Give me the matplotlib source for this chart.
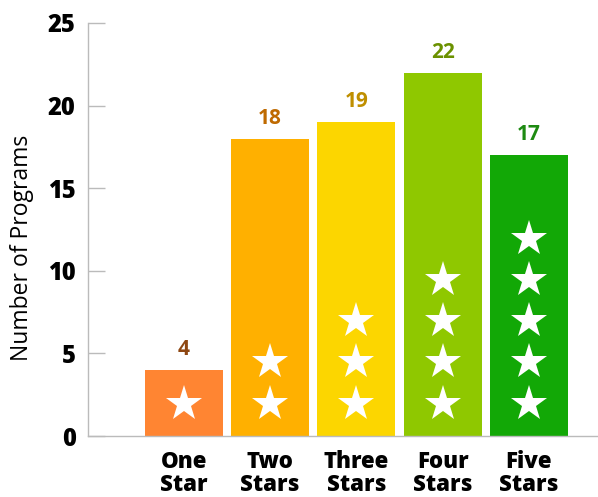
import matplotlib
matplotlib.use("Agg")
import matplotlib.pyplot as plt

categories = ["One\nStar", "Two\nStars", "Three\nStars", "Four\nStars", "Five\nStars"]
counts = [4, 18, 19, 22, 17]
star_counts = [1, 2, 3, 4, 5]
bar_colors = ["#FF8532", "#FFB000", "#FCD600", "#8FC800", "#12A806"]
label_colors = ["#8E4712", "#BF6A00", "#BF8F00", "#6B9100", "#1E8A12"]
yticks = [0, 5, 10, 15, 20, 25]

fig = plt.figure(figsize=(5.98, 4.97), dpi=100)
ax = fig.add_axes([88 / 598, 61 / 497, 1 - 88 / 598, 413 / 497])

x = list(range(len(categories)))
ax.bar(x, counts, width=0.905, color=bar_colors, zorder=2)

# value labels above the bars
for i, v in enumerate(counts):
    ax.annotate(str(v), (i, v), xytext=(0, 7), textcoords="offset points",
                ha="center", va="bottom", fontsize=15, fontweight=700,
                family="Open Sans", color=label_colors[i])

# white stars stacked inside each bar
for i, n in enumerate(star_counts):
    ys = [1.95 + 2.5 * k for k in range(n)]
    ax.plot([i] * n, ys, linestyle="none", marker="*", markersize=27,
            color="white", markeredgewidth=0, zorder=3)

ax.set_xlim(-1.11, 4.8)
ax.set_ylim(0, 25)
ax.set_yticks(yticks)
ax.set_yticklabels([str(t) for t in yticks], fontsize=17, fontweight=800,
                   family="Open Sans")
ax.set_xticks(x)
ax.set_xticklabels(categories, fontsize=16, fontweight=800, family="Open Sans",
                   linespacing=0.97)
ax.tick_params(axis="y", direction="in", length=12, width=1, color="#BBBBBB", pad=9)
ax.tick_params(axis="x", length=0, pad=10)

ax.set_ylabel("Number of Programs", fontsize=16.5, family="Open Sans")
ax.yaxis.set_label_coords(-0.106, 0.455)

for s in ["top", "right"]:
    ax.spines[s].set_visible(False)
for s in ["left", "bottom"]:
    ax.spines[s].set_color("#BBBBBB")
    ax.spines[s].set_linewidth(1)

fig.savefig("out.png", dpi=100)
